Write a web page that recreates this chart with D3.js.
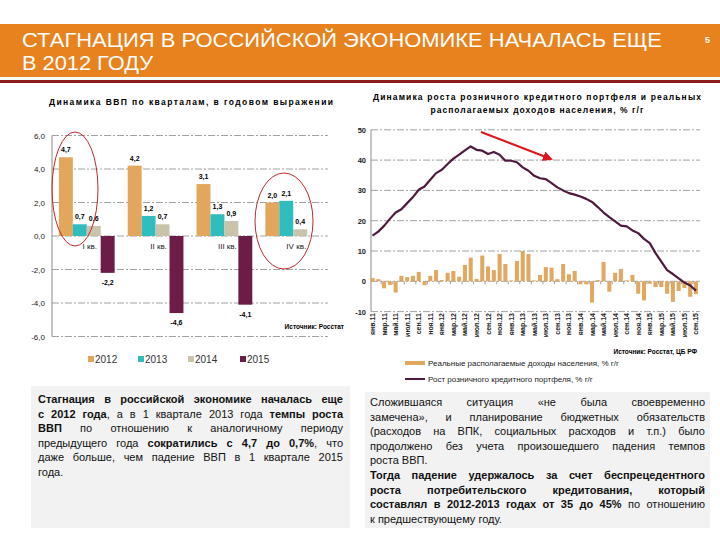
<!DOCTYPE html>
<html>
<head>
<meta charset="utf-8">
<script src="https://cdn.jsdelivr.net/npm/d3@7"></script>
<style>
  body { margin: 0; background: #fff; }
  svg { font-family: "Liberation Sans", Arial, sans-serif; }
</style>
</head>
<body>
<div id="chart"></div>
<script>
// ---- data ----
var quarters = ["I кв.", "II кв.", "III кв.", "IV кв."];
var years = ["2012", "2013", "2014", "2015"];
var gdp2012 = [4.7, 4.2, 3.1, 2.0];
var gdp2013 = [0.7, 1.2, 1.3, 2.1];
var gdp2014 = [0.6, 0.7, 0.9, 0.4];
var gdp2015 = [-2.2, -4.6, -4.1, null];
var gdpTicks = [6, 4, 2, 0, -2, -4, -6];

// monthly, Jan 2011 .. Sep 2015
var monthNames = ["янв", "фев", "мар", "апр", "май", "июн", "июл", "авг", "сен", "окт", "ноя", "дек"];
var incomeGrowth = [1.1, 0.7, -2.3, -1.2, -3.7, 1.8, 1.4, 1.8, 3.1, -1.3, 1.8, 3.7,
  0.4, 2.8, 3.4, 1.5, 5.4, 7.8, 0.8, 8.5, 4.9, 3.7, 9.0, 5.7,
  0.3, 6.7, 10.0, 9.0, 0.3, 2.1, 4.7, 4.5, 0.7, 5.7, 2.3, 3.4,
  -1.0, -1.0, -7.0, 0.4, 6.4, -3.4, 2.8, 4.1, 0.3, 2.1, -4.1, -6.3,
  -0.8, -1.9, -1.9, -4.1, -6.8, -3.2, -2.2, -5.1, -4.2];
var creditGrowth = [15.1, 16.4, 18.3, 20.6, 22.7, 23.8, 25.8, 27.8, 30.2, 31.3, 33.5, 35.7,
  36.8, 38.7, 40.5, 41.8, 43.2, 44.5, 43.4, 43.1, 42.0, 42.7, 41.8, 39.8,
  39.8, 39.3, 37.6, 36.5, 34.8, 34.0, 33.7, 32.4, 31.0, 30.0, 29.1, 28.6,
  28.0, 27.2, 26.2, 24.5, 22.7, 21.2, 19.8, 18.4, 18.1, 16.8, 15.9, 14.0,
  12.6, 9.3, 6.5, 3.7, 2.4, 1.0, -0.4, -1.4, -3.1];
var creditTicks = [50, 40, 30, 20, 10, 0, -10];

var months = [];
["11", "12", "13", "14", "15"].forEach(function(y) {
  monthNames.forEach(function(m) { months.push(m + "." + y); });
});
months = months.slice(0, incomeGrowth.length);

var fmt = function(v) { return d3.format(".1f")(v).replace(".", ",").replace("−", "-"); };

var svg = d3.select("#chart").append("svg")
  .attr("width", 720).attr("height", 540);

// ---- header ----
svg.append("rect").attr("x", 0).attr("y", 24).attr("width", 720).attr("height", 53)
  .attr("fill", "#E8821E");
svg.append("rect").attr("x", 0).attr("y", 80).attr("width", 720).attr("height", 3)
  .attr("fill", "#8E1B1B");
svg.append("text").attr("x", 22).attr("y", 47)
  .attr("fill", "#fff").style("font-size", "20px")
  .attr("textLength", 640).attr("lengthAdjust", "spacingAndGlyphs")
  .text("СТАГНАЦИЯ В РОССИЙСКОЙ ЭКОНОМИКЕ НАЧАЛАСЬ ЕЩЕ");
svg.append("text").attr("x", 22).attr("y", 70)
  .attr("fill", "#fff").style("font-size", "20px")
  .attr("textLength", 131).attr("lengthAdjust", "spacingAndGlyphs")
  .text("В 2012 ГОДУ");
svg.append("text").attr("x", 705).attr("y", 43)
  .attr("fill", "#fff").style("font-size", "9px").style("font-weight", "bold")
  .text("5");

// ---- left chart: GDP by quarter ----
var gdpSeries = [gdp2012, gdp2013, gdp2014, gdp2015];
var gdpColors = ["#E3A65D", "#2FBDBE", "#C9C3AC", "#6C1D47"];

var x0 = d3.scaleBand().domain(quarters).range([52, 328]).paddingInner(0.19).paddingOuter(0.1);
var x1 = d3.scaleBand().domain(years).range([0, x0.bandwidth()]);
var yL = d3.scaleLinear().domain([-6, 6]).range([336.5, 135.5]);

var left = svg.append("g");

left.append("text").attr("x", 191).attr("y", 105)
  .attr("text-anchor", "middle")
  .style("font-size", "8.5px").style("font-weight", "bold")
  .attr("textLength", 284).attr("lengthAdjust", "spacing")
  .text("Динамика ВВП по кварталам, в годовом выражении");

left.selectAll(".grid").data(gdpTicks).enter().append("line")
  .attr("x1", 52).attr("x2", 328)
  .attr("y1", d => yL(d)).attr("y2", d => yL(d))
  .attr("stroke", "#8a8a8a").attr("stroke-width", 0.8)
  .attr("stroke-dasharray", "7,2,2,2");

left.selectAll(".ytick").data(gdpTicks).enter().append("text")
  .attr("x", 45).attr("y", d => yL(d) + 3)
  .attr("text-anchor", "end")
  .style("font-size", "8px").attr("fill", "#222")
  .text(d => fmt(d));

left.append("line").attr("x1", 52).attr("x2", 52)
  .attr("y1", yL(6)).attr("y2", yL(-6))
  .attr("stroke", "#8a8a8a").attr("stroke-width", 1);

gdpSeries.forEach(function(series, si) {
  var yr = years[si];
  series.forEach(function(v, qi) {
    if (v === null) return;
    var bx = x0(quarters[qi]) + x1(yr);
    left.append("rect")
      .attr("x", bx).attr("width", x1.bandwidth())
      .attr("y", yL(Math.max(0, v)))
      .attr("height", Math.abs(yL(v) - yL(0)))
      .attr("fill", gdpColors[si]);
    left.append("text")
      .attr("x", bx + x1.bandwidth() / 2)
      .attr("y", v >= 0 ? yL(v) - 5 : yL(v) + 12)
      .attr("text-anchor", "middle")
      .style("font-size", "7px").style("font-weight", "bold")
      .text(fmt(v));
  });
});

left.selectAll(".qlab").data(quarters).enter().append("text")
  .attr("x", d => x0(d) + x0.bandwidth() / 2 + 3)
  .attr("y", yL(0) + 13)
  .attr("text-anchor", "middle")
  .style("font-size", "8px").attr("fill", "#222")
  .text(d => d);

// red ellipses
left.append("ellipse").attr("cx", 75).attr("cy", 189).attr("rx", 23).attr("ry", 57)
  .attr("fill", "none").attr("stroke", "#C0282D").attr("stroke-width", 1);
left.append("ellipse").attr("cx", 284).attr("cy", 221).attr("rx", 29).attr("ry", 48)
  .attr("fill", "none").attr("stroke", "#C0282D").attr("stroke-width", 1);

left.append("text").attr("x", 344).attr("y", 329)
  .attr("text-anchor", "end")
  .style("font-size", "6.5px").style("font-weight", "bold")
  .text("Источник: Росстат");

var legX = [88, 138, 188, 240];
years.forEach(function(yr, i) {
  left.append("rect").attr("x", legX[i]).attr("y", 356).attr("width", 6).attr("height", 6)
    .attr("fill", gdpColors[i]);
  left.append("text").attr("x", legX[i] + 7).attr("y", 363)
    .style("font-size", "10px").attr("fill", "#333")
    .text(yr);
});

// ---- right chart: credit & income ----
var xR = d3.scaleBand().domain(months).range([370.5, 698]).paddingInner(0.3);
var yR = d3.scaleLinear().domain([-10, 50]).range([311.6, 129.8]);

var right = svg.append("g");

right.append("text").attr("x", 537).attr("y", 100)
  .attr("text-anchor", "middle")
  .style("font-size", "8.5px").style("font-weight", "bold")
  .attr("textLength", 328).attr("lengthAdjust", "spacing")
  .text("Динамика роста розничного кредитного портфеля и реальных");
right.append("text").attr("x", 537).attr("y", 113)
  .attr("text-anchor", "middle")
  .style("font-size", "8.5px").style("font-weight", "bold")
  .attr("textLength", 213).attr("lengthAdjust", "spacing")
  .text("располагаемых доходов населения, % г/г");

right.selectAll(".grid").data(creditTicks).enter().append("line")
  .attr("x1", 371).attr("x2", 700)
  .attr("y1", d => yR(d)).attr("y2", d => yR(d))
  .attr("stroke", "#8a8a8a").attr("stroke-width", 0.8)
  .attr("stroke-dasharray", "7,2,2,2");

right.selectAll(".ytick").data(creditTicks).enter().append("text")
  .attr("x", 366).attr("y", d => yR(d) + 3)
  .attr("text-anchor", "end")
  .style("font-size", "7.5px").style("font-weight", "bold").attr("fill", "#222")
  .text(d => d);

right.append("line").attr("x1", 371).attr("x2", 371)
  .attr("y1", yR(50)).attr("y2", yR(-10))
  .attr("stroke", "#8a8a8a").attr("stroke-width", 1);

right.selectAll(".bar").data(incomeGrowth).enter().append("rect")
  .attr("x", (d, i) => xR(months[i]))
  .attr("width", xR.bandwidth())
  .attr("y", d => yR(Math.max(0, d)))
  .attr("height", d => Math.abs(yR(d) - yR(0)))
  .attr("fill", "#E0A860");

// ticks on zero line every 2 months
var step = xR.step();
right.selectAll(".xtick").data(months.filter((m, i) => i % 2 === 1 && i < months.length - 1)).enter()
  .append("line")
  .attr("x1", d => xR(d) + xR.bandwidth() + step * xR.paddingInner() / 2)
  .attr("x2", d => xR(d) + xR.bandwidth() + step * xR.paddingInner() / 2)
  .attr("y1", yR(0)).attr("y2", yR(0) + 3)
  .attr("stroke", "#8a8a8a").attr("stroke-width", 0.8);

right.append("path")
  .datum(creditGrowth)
  .attr("fill", "none")
  .attr("stroke", "#4E1B3E")
  .attr("stroke-width", 2.2)
  .attr("stroke-linejoin", "round")
  .attr("d", d3.line()
    .x((d, i) => xR(months[i]) + xR.bandwidth() / 2)
    .y(d => yR(d)));

right.selectAll(".xlab").data(months.filter((m, i) => i % 2 === 0)).enter()
  .append("text")
  .attr("transform", d => `translate(${xR(d) + xR.bandwidth() / 2 + 2.5}, 313) rotate(-90)`)
  .attr("text-anchor", "end")
  .style("font-size", "7px").style("font-weight", "bold").attr("fill", "#222")
  .text(d => d);

// red arrow
var defs = svg.append("defs");
defs.append("marker").attr("id", "arrow")
  .attr("viewBox", "0 0 10 10").attr("refX", 8).attr("refY", 5)
  .attr("markerWidth", 5).attr("markerHeight", 5).attr("orient", "auto")
  .append("path").attr("d", "M0,0 L10,5 L0,10 z").attr("fill", "#E0141E");
right.append("line").attr("x1", 481).attr("y1", 132).attr("x2", 551).attr("y2", 159)
  .attr("stroke", "#E0141E").attr("stroke-width", 2)
  .attr("marker-end", "url(#arrow)");

right.append("text").attr("x", 697).attr("y", 354)
  .attr("text-anchor", "end")
  .style("font-size", "6.5px").style("font-weight", "bold")
  .text("Источник: Росстат, ЦБ РФ");

right.append("rect").attr("x", 405).attr("y", 361).attr("width", 20).attr("height", 4)
  .attr("fill", "#E0A860");
right.append("text").attr("x", 428).attr("y", 366)
  .style("font-size", "8px").attr("fill", "#222")
  .text("Реальные располагаемые доходы населения, % г/г");
right.append("line").attr("x1", 405).attr("x2", 425).attr("y1", 379).attr("y2", 379)
  .attr("stroke", "#4E1B3E").attr("stroke-width", 2);
right.append("text").attr("x", 428).attr("y", 382)
  .style("font-size", "8px").attr("fill", "#222")
  .text("Рост розничного кредитного портфеля, % г/г");

// ---- text boxes ----
svg.append("rect").attr("x", 31).attr("y", 386).attr("width", 319).attr("height", 142)
  .attr("fill", "#F2F2F2");
svg.append("rect").attr("x", 365).attr("y", 392).attr("width", 345).attr("height", 136)
  .attr("fill", "#F2F2F2");

// justified lines; a segment starting with punctuation sticks to the previous word
function justify(lines, xa, xb, size) {
  lines.forEach(function(line) {
    var words = [];
    line.segs.forEach(function(s) {
      var toks = s[0].split(" ");
      toks.forEach(function(w, k) {
        if (!w.length) return;
        if (k === 0 && /^[,.;:)»]/.test(w) && words.length) {
          words[words.length - 1].push({ t: w, b: s[1] });
        } else {
          words.push([{ t: w, b: s[1] }]);
        }
      });
    });
    var nodes = words.map(function(pieces) {
      var t = svg.append("text").attr("y", line.y)
        .style("font-size", size + "px").attr("fill", "#111");
      pieces.forEach(function(p) {
        t.append("tspan").style("font-weight", p.b ? "bold" : "normal").text(p.t);
      });
      return { sel: t, w: t.node().getComputedTextLength() };
    });
    var total = d3.sum(nodes, n => n.w);
    var gap = line.last ? size * 0.28 : (xb - xa - total) / Math.max(1, nodes.length - 1);
    var cx = xa;
    nodes.forEach(function(n) {
      n.sel.attr("x", cx);
      cx += n.w + gap;
    });
  });
}

justify([
  { y: 403, segs: [["Стагнация в российской экономике началась еще", true]] },
  { y: 417.5, segs: [["с 2012 года", true], [", а в 1 квартале 2013 года", false], ["темпы роста", true]] },
  { y: 432, segs: [["ВВП", true], ["по отношению к аналогичному периоду", false]] },
  { y: 446.5, segs: [["предыдущего года", false], ["сократились с 4,7 до 0,7%", true], [", что", false]] },
  { y: 461, segs: [["даже больше, чем падение ВВП в 1 квартале 2015", false]] },
  { y: 475.5, segs: [["года.", false]], last: true }
], 38, 343, 11);

justify([
  { y: 406, segs: [["Сложившаяся ситуация «не была своевременно", false]] },
  { y: 420.5, segs: [["замечена», и планирование бюджетных обязательств", false]] },
  { y: 435, segs: [["(расходов на ВПК, социальных расходов и т.п.) было", false]] },
  { y: 449.5, segs: [["продолжено без учета произошедшего падения темпов", false]] },
  { y: 464, segs: [["роста ВВП.", false]], last: true },
  { y: 479, segs: [["Тогда падение удержалось за счет беспрецедентного", true]] },
  { y: 493.5, segs: [["роста потребительского кредитования, который", true]] },
  { y: 508, segs: [["составлял в 2012-2013 годах от 35 до 45%", true], ["по отношению", false]] },
  { y: 522.5, segs: [["к предшествующему году.", false]], last: true }
], 370, 705, 11);
</script>
</body>
</html>
